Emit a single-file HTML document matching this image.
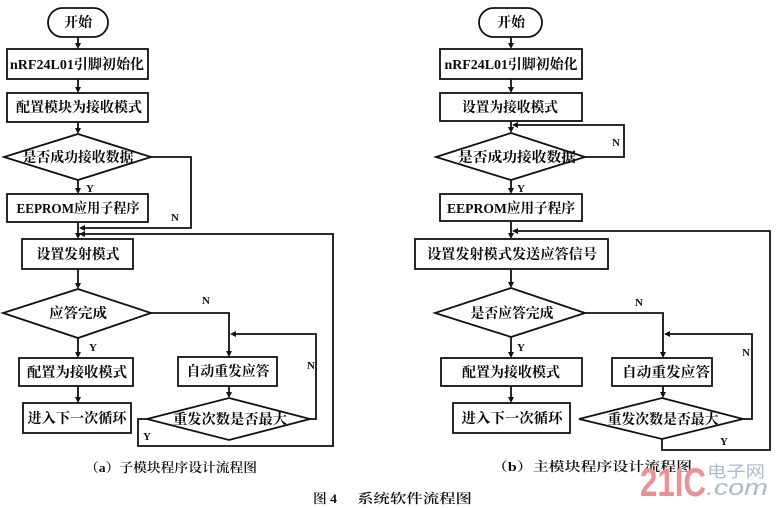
<!DOCTYPE html>
<html>
<head>
<meta charset="utf-8">
<style>
html,body{margin:0;padding:0;background:#fff;}
svg{display:block;}
.t{font-family:"Liberation Serif","Noto Serif CJK SC",serif;font-size:14px;font-weight:bold;fill:#0a0a0a;}
.l{font-family:"Liberation Serif",serif;font-size:11px;font-weight:bold;fill:#111;}
.c{font-family:"Liberation Serif","Noto Serif CJK SC",serif;font-size:13px;fill:#111;font-weight:600;}
</style>
</head>
<body>
<svg width="778" height="508" viewBox="0 0 778 508" xmlns="http://www.w3.org/2000/svg">
<rect width="778" height="508" fill="#fff"/>
<g fill="none" stroke="#111" stroke-width="1.8">
  <!-- ===== LEFT (a) ===== -->
  <rect x="48" y="8" width="60" height="29" rx="14.5"/>
  <rect x="7" y="49" width="141" height="30"/>
  <rect x="7" y="93" width="141" height="29"/>
  <polygon points="78,134 151,157 78,180 4,157"/>
  <rect x="7" y="194" width="141" height="28"/>
  <rect x="22" y="239" width="111" height="30"/>
  <polygon points="78,289 151,313 78,338 3,313"/>
  <rect x="19" y="358" width="114" height="28"/>
  <rect x="23" y="403" width="108" height="30"/>
  <rect x="178" y="357" width="99" height="29"/>
  <polygon points="229,398 310,419 229,440 147,419"/>
  <!-- connectors -->
  <line x1="78" y1="37" x2="78" y2="45"/>
  <line x1="78" y1="79" x2="78" y2="89"/>
  <line x1="78" y1="122" x2="78" y2="130"/>
  <line x1="78" y1="180" x2="78" y2="190"/>
  <line x1="78" y1="222" x2="78" y2="235"/>
  <line x1="78" y1="269" x2="78" y2="285"/>
  <line x1="78" y1="338" x2="78" y2="354"/>
  <line x1="78" y1="386" x2="78" y2="399"/>
  <polyline points="151,157 191,157 191,228 84,228"/>
  <polyline points="147,419 138,419 138,446 333,446 333,234 84,234"/>
  <polyline points="151,313 229,313 229,353"/>
  <line x1="229" y1="386" x2="229" y2="394"/>
  <polyline points="310,419 316,419 316,334 235,334"/>

  <!-- ===== RIGHT (b) ===== -->
  <rect x="479" y="8" width="63" height="29" rx="14.5"/>
  <rect x="440" y="49" width="142" height="30"/>
  <rect x="440" y="93" width="142" height="28"/>
  <polygon points="511,133 585,157 511,180 436,157"/>
  <rect x="440" y="194" width="142" height="27"/>
  <rect x="415" y="239" width="193" height="30"/>
  <polygon points="511,288 585,313 511,337 435,313"/>
  <rect x="441" y="358" width="141" height="28"/>
  <rect x="453" y="403" width="117" height="30"/>
  <rect x="612" y="358" width="100" height="28"/>
  <polygon points="662,398 743,419 662,439 579,419"/>
  <!-- connectors -->
  <line x1="511" y1="37" x2="511" y2="45"/>
  <line x1="511" y1="79" x2="511" y2="89"/>
  <line x1="511" y1="121" x2="511" y2="129"/>
  <line x1="511" y1="180" x2="511" y2="190"/>
  <line x1="511" y1="221" x2="511" y2="235"/>
  <line x1="511" y1="269" x2="511" y2="284"/>
  <line x1="511" y1="337" x2="511" y2="354"/>
  <line x1="511" y1="386" x2="511" y2="399"/>
  <polyline points="585,157 624,157 624,125 517,125"/>
  <polyline points="662,439 662,450 770,450 770,231 517,231"/>
  <polyline points="585,313 663,313 663,354"/>
  <line x1="663" y1="386" x2="663" y2="394"/>
  <polyline points="743,419 752,419 752,334 669,334"/>
</g>
<g fill="#111">
  <!-- left arrowheads -->
  <polygon points="75,43 81,43 78,49"/>
  <polygon points="75,87 81,87 78,93"/>
  <polygon points="75,128 81,128 78,134"/>
  <polygon points="75,188 81,188 78,194"/>
  <polygon points="75,233 81,233 78,239"/>
  <polygon points="75,283 81,283 78,289"/>
  <polygon points="75,352 81,352 78,358"/>
  <polygon points="75,397 81,397 78,403"/>
  <polygon points="85,225 85,231 79,228"/>
  <polygon points="85,231 85,237 79,234"/>
  <polygon points="226,351 232,351 229,357"/>
  <polygon points="226,392 232,392 229,398"/>
  <polygon points="236,331 236,337 230,334"/>
  <!-- right arrowheads -->
  <polygon points="508,43 514,43 511,49"/>
  <polygon points="508,87 514,87 511,93"/>
  <polygon points="508,127 514,127 511,133"/>
  <polygon points="508,188 514,188 511,194"/>
  <polygon points="508,233 514,233 511,239"/>
  <polygon points="508,282 514,282 511,288"/>
  <polygon points="508,352 514,352 511,358"/>
  <polygon points="508,397 514,397 511,403"/>
  <polygon points="518,122 518,128 512,125"/>
  <polygon points="518,228 518,234 512,231"/>
  <polygon points="660,352 666,352 663,358"/>
  <polygon points="660,392 666,392 663,398"/>
  <polygon points="670,331 670,337 664,334"/>
</g>

<!-- left texts -->
<text class="t" x="78" y="27" text-anchor="middle">开始</text>
<text class="t" x="77" y="69" text-anchor="middle" textLength="134" lengthAdjust="spacingAndGlyphs">nRF24L01引脚初始化</text>
<text class="t" x="79" y="112" text-anchor="middle" textLength="126" lengthAdjust="spacingAndGlyphs">配置模块为接收模式</text>
<text class="t" x="78" y="162" text-anchor="middle" textLength="111" lengthAdjust="spacingAndGlyphs">是否成功接收数据</text>
<text class="t" x="78" y="213" text-anchor="middle" textLength="123" lengthAdjust="spacingAndGlyphs">EEPROM应用子程序</text>
<text class="t" x="78" y="259" text-anchor="middle" textLength="83" lengthAdjust="spacingAndGlyphs">设置发射模式</text>
<text class="t" x="78" y="318" text-anchor="middle" textLength="58" lengthAdjust="spacingAndGlyphs">应答完成</text>
<text class="t" x="77" y="377" text-anchor="middle" textLength="100" lengthAdjust="spacingAndGlyphs">配置为接收模式</text>
<text class="t" x="77" y="423" text-anchor="middle" textLength="99" lengthAdjust="spacingAndGlyphs">进入下一次循环</text>
<text class="t" x="228" y="376" text-anchor="middle" textLength="83" lengthAdjust="spacingAndGlyphs">自动重发应答</text>
<text class="t" x="230" y="424" text-anchor="middle" textLength="114" lengthAdjust="spacingAndGlyphs">重发次数是否最大</text>
<text class="l" x="86" y="192">Y</text>
<text class="l" x="171" y="221">N</text>
<text class="l" x="202" y="304">N</text>
<text class="l" x="89" y="351">Y</text>
<text class="l" x="307" y="369">N</text>
<text class="l" x="143" y="440">Y</text>
<text class="c" x="171" y="472" text-anchor="middle" textLength="172" lengthAdjust="spacingAndGlyphs">（a）子模块程序设计流程图</text>

<!-- right texts -->
<text class="t" x="511" y="27" text-anchor="middle">开始</text>
<text class="t" x="511" y="69" text-anchor="middle" textLength="133" lengthAdjust="spacingAndGlyphs">nRF24L01引脚初始化</text>
<text class="t" x="510" y="112" text-anchor="middle" textLength="96" lengthAdjust="spacingAndGlyphs">设置为接收模式</text>
<text class="t" x="517" y="162" text-anchor="middle" textLength="118" lengthAdjust="spacingAndGlyphs">是否成功接收数据</text>
<text class="t" x="511" y="213" text-anchor="middle" textLength="128" lengthAdjust="spacingAndGlyphs">EEPROM应用子程序</text>
<text class="t" x="512" y="259" text-anchor="middle" textLength="170" lengthAdjust="spacingAndGlyphs">设置发射模式发送应答信号</text>
<text class="t" x="512" y="318" text-anchor="middle" textLength="83" lengthAdjust="spacingAndGlyphs">是否应答完成</text>
<text class="t" x="511" y="377" text-anchor="middle" textLength="98" lengthAdjust="spacingAndGlyphs">配置为接收模式</text>
<text class="t" x="512" y="423" text-anchor="middle" textLength="101" lengthAdjust="spacingAndGlyphs">进入下一次循环</text>
<text class="t" x="666" y="377" text-anchor="middle" textLength="88" lengthAdjust="spacingAndGlyphs">自动重发应答</text>
<text class="t" x="663" y="424" text-anchor="middle" textLength="111" lengthAdjust="spacingAndGlyphs">重发次数是否最大</text>
<text class="l" x="612" y="146">N</text>
<text class="l" x="517" y="192">Y</text>
<text class="l" x="635" y="306">N</text>
<text class="l" x="517" y="351">Y</text>
<text class="l" x="742" y="356">N</text>
<text class="l" x="720" y="445">Y</text>
<text class="c" x="592" y="471" text-anchor="middle" textLength="200" lengthAdjust="spacingAndGlyphs">（b）主模块程序设计流程图</text>

<!-- figure title -->
<text class="c" x="313" y="503" textLength="24" lengthAdjust="spacingAndGlyphs">图 4</text>
<text class="c" x="357" y="503" textLength="115" lengthAdjust="spacingAndGlyphs">系统软件流程图</text>

<!-- watermark -->
<text x="640" y="496" font-family="Liberation Sans, sans-serif" font-weight="bold" font-size="40" fill="#eb9097" textLength="66" lengthAdjust="spacingAndGlyphs">21IC</text>
<text x="707" y="477" font-family="Liberation Sans, Noto Sans CJK SC, sans-serif" font-size="16" fill="#aeb8cb" textLength="58" lengthAdjust="spacingAndGlyphs">电子网</text>
<text x="706" y="495" font-family="Liberation Sans, sans-serif" font-style="italic" font-size="22" fill="#aeb8cb" textLength="62" lengthAdjust="spacingAndGlyphs">.com</text>
</svg>
</body>
</html>
